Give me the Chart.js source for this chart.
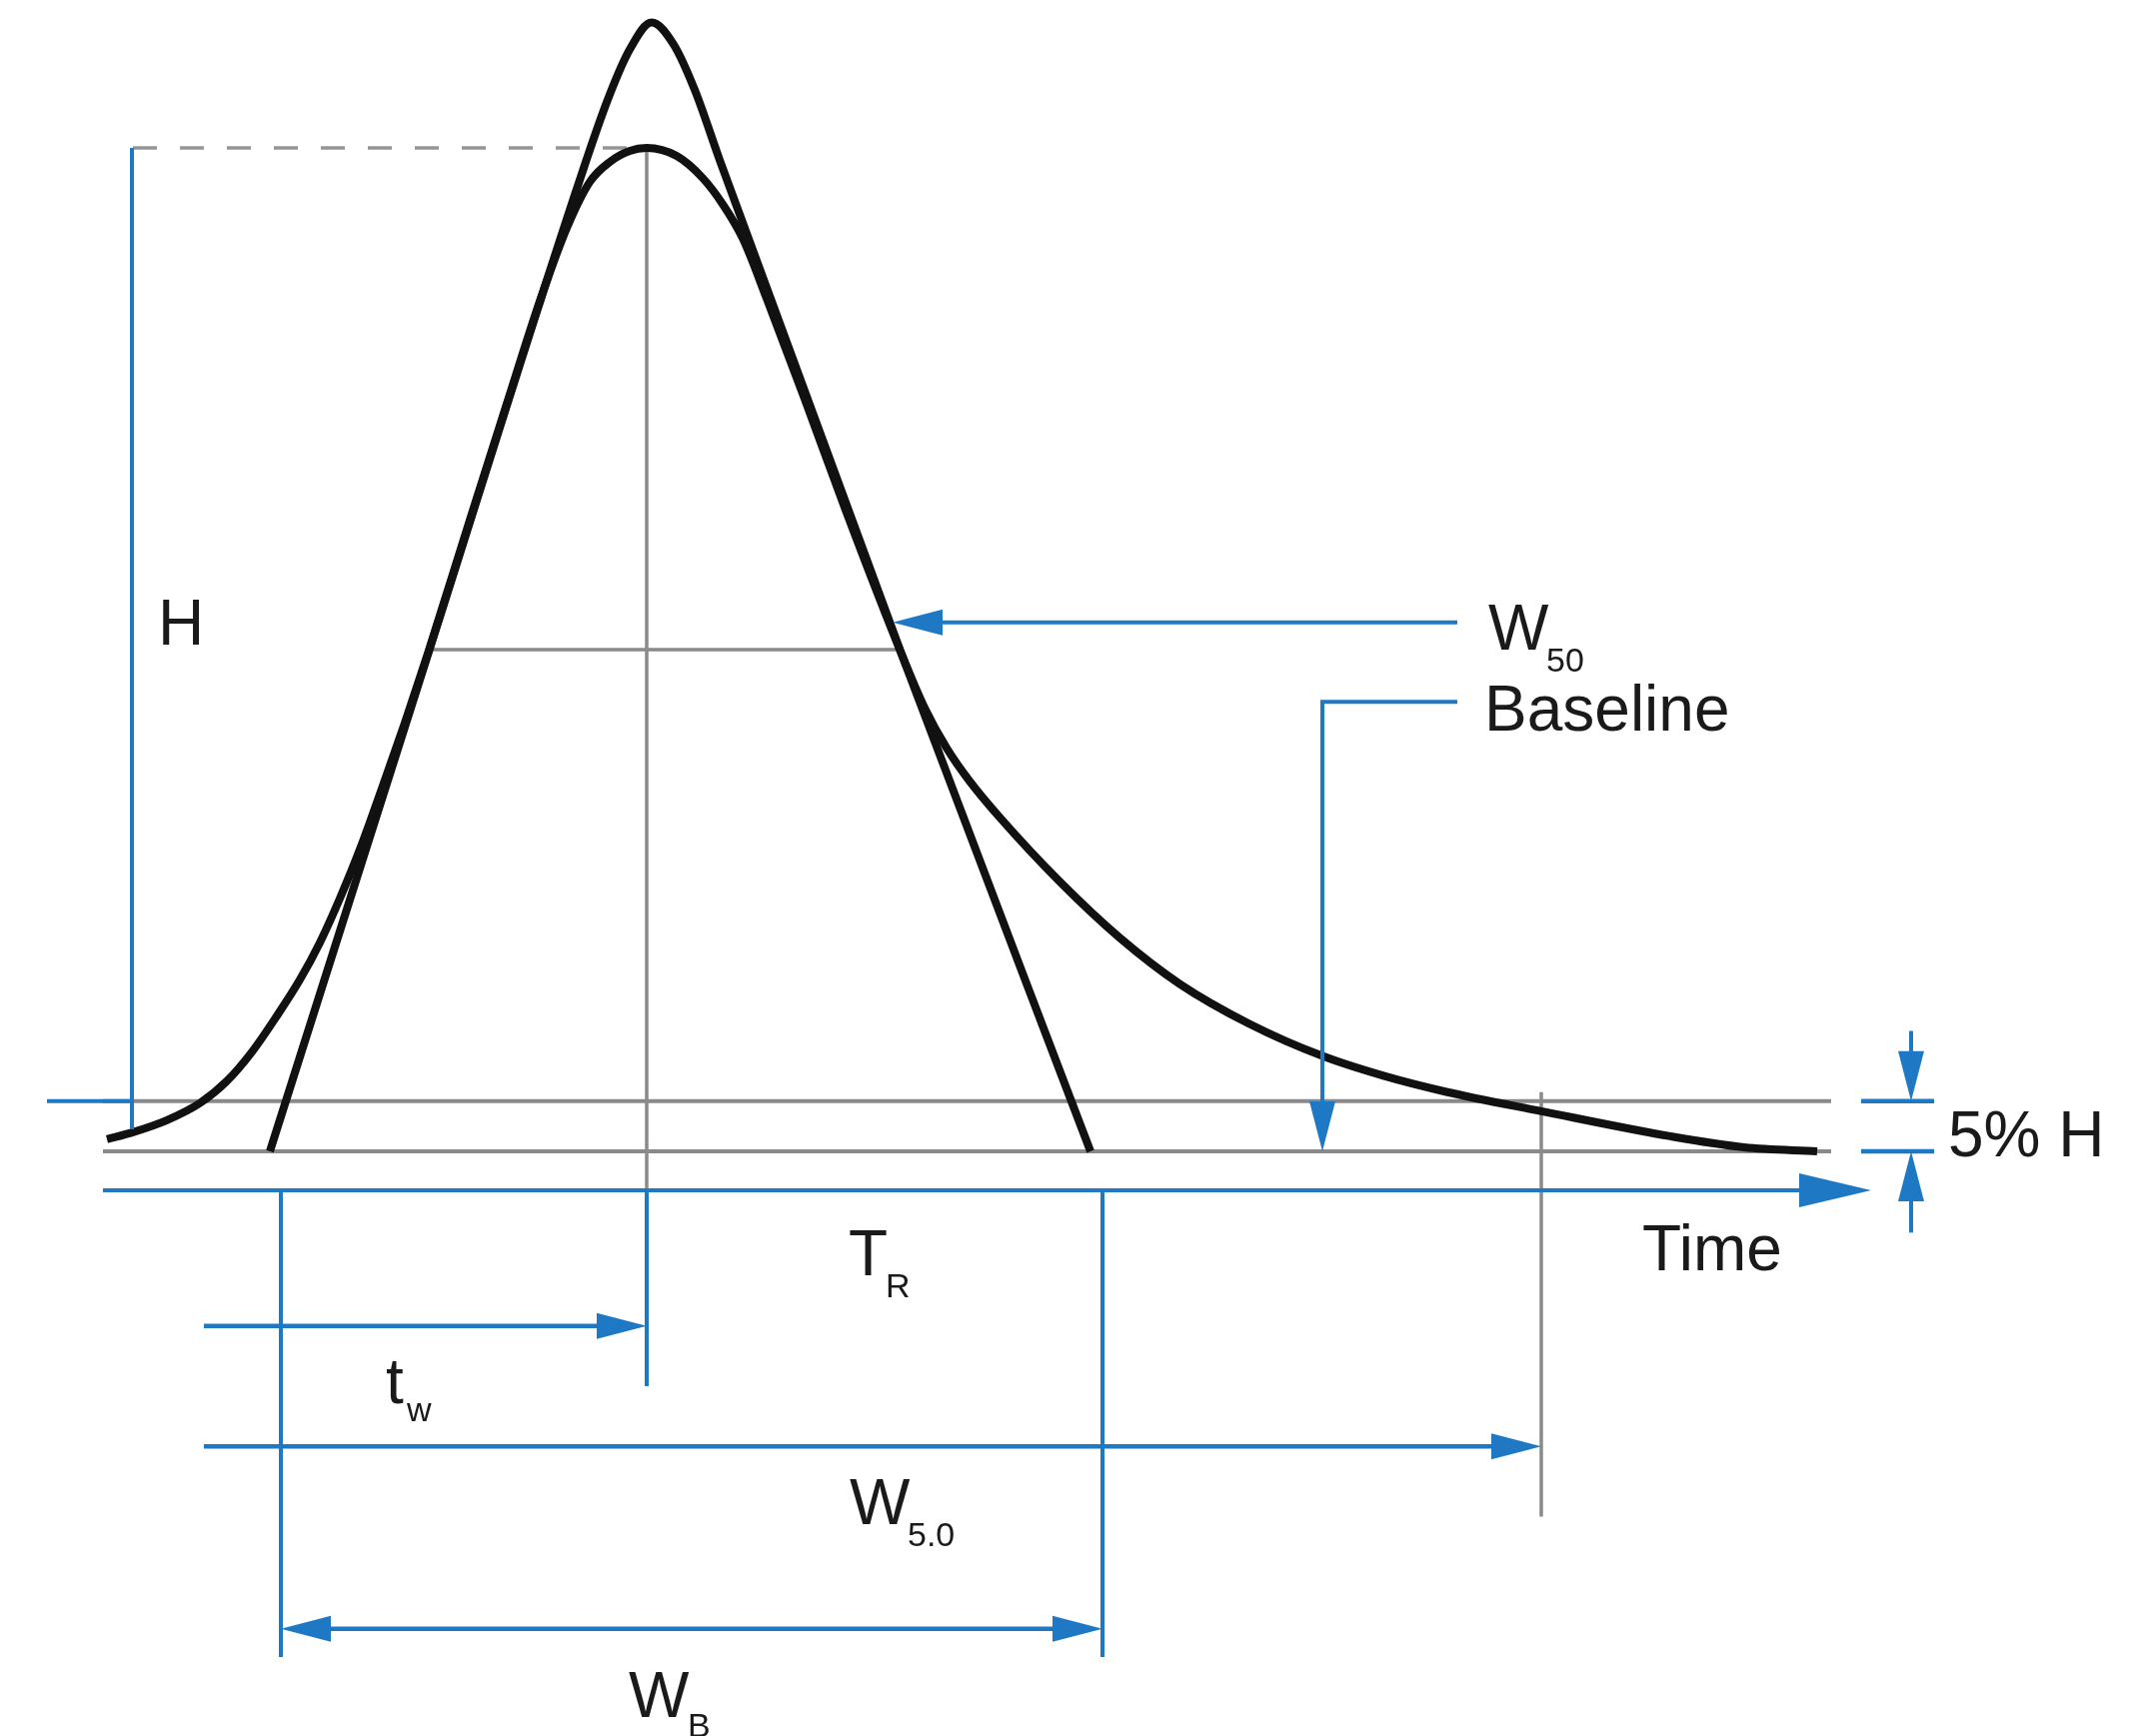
<!DOCTYPE html>
<html>
<head>
<meta charset="utf-8">
<script src="https://cdn.jsdelivr.net/npm/chart.js@4.4.1/dist/chart.umd.min.js"></script>
<style>
  html, body { margin: 0; padding: 0; background: #fff; }
  #wrap { position: relative; width: 2143px; height: 1737px; }
</style>
</head>
<body>
<div id="wrap"><canvas id="peak-chart"></canvas></div>
<script>
// time in min, signal in % of peak height H
const X_MIN = 0, X_MAX = 21.43;
const Y_MIN = -58.27, Y_MAX = 114.74;

// recorded peak, with tailing
const peakTime   = [1.07, 1.33, 1.67, 2.00, 2.27, 2.52, 2.77, 3.00, 3.20, 3.40, 3.62, 3.85, 4.05, 4.28, 4.70, 5.08,
                    5.40, 5.67, 5.90, 6.10, 6.30, 6.47, 6.77, 7.03, 7.23, 7.43, 7.67, 8.05, 8.46, 9.01, 9.25, 9.47,
                    9.70, 10.00, 10.60, 11.20, 11.80, 12.50, 13.23, 13.85, 14.48, 15.42, 16.71, 17.45, 18.18];
const peakSignal = [1.2, 1.9, 3.1, 4.8, 7.0, 9.9, 13.5, 17.1, 20.8, 25.2, 30.6, 37.0, 42.7, 49.6, 62.9, 74.8,
                    84.7, 92.0, 96.6, 98.6, 99.7, 100, 99.2, 97.0, 94.4, 91.0, 85.0, 75.0, 63.9, 49.8, 44.2, 40.2,
                    36.9, 33.3, 26.9, 21.3, 16.7, 12.7, 9.5, 7.5, 5.9, 4.0, 1.5, 0.4, 0];

// tangents through the inflection points
const tangentTime   = [2.70, 4.29, 5.80, 6.08, 6.30, 6.52, 6.74, 6.95, 7.20, 9.01, 10.91];
const tangentSignal = [0, 49.8, 96.8, 104.8, 109.8, 112.5, 110.3, 105.8, 98.8, 49.8, 0];

// levels
const baseLevel  = 0;
const fivePct    = 5;
const halfHeight = 50;
const peakHeight = 100;

// times
const retention = 6.47;                    // T_R
const halfLeft = 4.30, halfRight = 8.99;   // W50
const baseLeft = 2.81, baseRight = 11.03;  // W_B
const w5Right = 15.42;                     // W5.0

const blue = '#1f78c4';
const gray = '#8a8a8a';
const ink  = '#111111';

// data units per pixel, used to pull arrow shafts back under the heads
const xPerPx = (X_MAX - X_MIN) / 2143;
const yPerPx = (Y_MAX - Y_MIN) / 1737;

function line(pts, color, width, order, dash) {
  return {
    data: pts.map(([x, y]) => ({ x, y })),
    showLine: true,
    borderColor: color,
    borderWidth: width,
    borderDash: dash || [],
    borderCapStyle: 'butt',
    borderJoinStyle: 'miter',
    pointRadius: 0,
    tension: 0,
    order,
    clip: false,
  };
}

function curve(xs, ys) {
  return {
    data: xs.map((t, i) => ({ x: t, y: ys[i] })),
    showLine: true,
    borderColor: ink,
    borderWidth: 8,
    pointRadius: 0,
    cubicInterpolationMode: 'monotone',
    borderCapStyle: 'butt',
    borderJoinStyle: 'round',
    order: 2,
    clip: false,
  };
}

function back(x, y, dir, px) {
  if (dir === 'r') return [x - px * xPerPx, y];
  if (dir === 'l') return [x + px * xPerPx, y];
  if (dir === 'd') return [x, y + px * yPerPx];
  return [x, y - px * yPerPx];
}

const axisY = -3.88;       // blue time axis
const twY = -17.4, w5Y = -29.4, wbY = -47.6;
const arrowFrom = 2.04;
const w50Y = 52.7, basePtrY = 44.8, calloutX = 14.58, basePtrX = 13.23;
const markX = 19.12;

// arrow heads: x, y, direction, big?
const heads = [
  [18.72, axisY, 'r', true],
  [retention, twY, 'r'],
  [w5Right, w5Y, 'r'],
  [baseLeft, wbY, 'l'],
  [baseRight, wbY, 'r'],
  [8.93, w50Y, 'l'],
  [basePtrX, baseLevel, 'd'],
  [markX, fivePct, 'd'],
  [markX, baseLevel, 'u'],
];

const datasets = [
  // grey guides
  line([[1.03, baseLevel], [18.32, baseLevel]], gray, 4, 3),
  line([[1.03, fivePct], [18.32, fivePct]], gray, 4, 3),
  line([[halfLeft, halfHeight], [halfRight, halfHeight]], gray, 3.5, 3),
  line([[retention, peakHeight], [retention, axisY]], gray, 3.5, 3),
  line([[w5Right, 5.9], [w5Right, -36.4]], gray, 3.5, 3),
  line([[1.33, peakHeight], [retention, peakHeight]], '#959595', 3.5, 3, [24, 23]),

  // peak and tangents
  curve(peakTime, peakSignal),
  curve(tangentTime, tangentSignal),

  // blue dimension lines
  line([[1.32, peakHeight], [1.32, 2.2]], blue, 4, 1),
  line([[0.47, fivePct], [1.32, fivePct]], blue, 4, 1),
  line([[1.03, axisY], back(18.72, axisY, 'r', 30)], blue, 4, 1),
  line([[retention, axisY], [retention, -23.4]], blue, 4, 1),
  line([[baseLeft, axisY], [baseLeft, -50.4]], blue, 4, 1),
  line([[baseRight, axisY], [baseRight, -50.4]], blue, 4, 1),
  line([[arrowFrom, twY], back(retention, twY, 'r', 20)], blue, 4.5, 1),
  line([[arrowFrom, w5Y], back(w5Right, w5Y, 'r', 20)], blue, 4.5, 1),
  line([back(baseLeft, wbY, 'l', 20), back(baseRight, wbY, 'r', 20)], blue, 4.5, 1),
  line([[calloutX, w50Y], back(8.93, w50Y, 'l', 20)], blue, 4, 1),
  line([[calloutX, basePtrY], [basePtrX, basePtrY], back(basePtrX, baseLevel, 'd', 20)], blue, 4, 1),
  line([[18.62, fivePct], [19.35, fivePct]], blue, 4.5, 1),
  line([[18.62, baseLevel], [19.35, baseLevel]], blue, 4.5, 1),
  line([[markX, 12.0], back(markX, fivePct, 'd', 20)], blue, 4, 1),
  line([[markX, -8.1], back(markX, baseLevel, 'u', 20)], blue, 4, 1),
];

// text, x, y, subscript?
const labels = [
  ['H', 1.58, 50.5],
  ['W', 14.89, 50.0], ['50', 15.47, 47.8, true],
  ['Baseline', 14.85, 41.9],
  ['Time', 16.43, -11.85],
  ['5% H', 19.49, -0.5],
  ['T', 8.49, -12.4], ['R', 8.86, -14.5, true],
  ['t', 3.86, -25.1], ['w', 4.07, -26.9, true],
  ['W', 8.50, -37.2], ['5.0', 9.08, -39.3, true],
  ['W', 6.29, -56.4], ['B', 6.88, -58.4, true],
];

const arrowHeads = {
  id: 'arrowHeads',
  afterDatasetsDraw(chart) {
    const { ctx, scales: { x, y } } = chart;
    ctx.save();
    ctx.fillStyle = blue;
    heads.forEach(([hx, hy, dir, big]) => {
      const px = x.getPixelForValue(hx), py = y.getPixelForValue(hy);
      const len = big ? 72 : 50, half = big ? 17 : 13;
      ctx.beginPath();
      ctx.moveTo(px, py);
      if (dir === 'r') { ctx.lineTo(px - len, py - half); ctx.lineTo(px - len, py + half); }
      if (dir === 'l') { ctx.lineTo(px + len, py - half); ctx.lineTo(px + len, py + half); }
      if (dir === 'd') { ctx.lineTo(px - half, py - len); ctx.lineTo(px + half, py - len); }
      if (dir === 'u') { ctx.lineTo(px - half, py + len); ctx.lineTo(px + half, py + len); }
      ctx.closePath();
      ctx.fill();
    });
    ctx.restore();
  }
};

const peakLabels = {
  id: 'peakLabels',
  afterDatasetsDraw(chart) {
    const { ctx, scales: { x, y } } = chart;
    ctx.save();
    ctx.fillStyle = '#1a1a1a';
    ctx.textBaseline = 'alphabetic';
    ctx.textAlign = 'left';
    labels.forEach(([text, lx, ly, sub]) => {
      ctx.font = (sub ? 34 : 64) + 'px "Liberation Sans", Arial, sans-serif';
      ctx.fillText(text, x.getPixelForValue(lx), y.getPixelForValue(ly));
    });
    ctx.restore();
  }
};

new Chart(document.getElementById('peak-chart'), {
  type: 'scatter',
  data: { datasets },
  options: {
    responsive: true,
    maintainAspectRatio: false,
    devicePixelRatio: 1,
    animation: false,
    layout: { padding: 0 },
    plugins: { legend: { display: false }, tooltip: { enabled: false } },
    scales: {
      x: { type: 'linear', min: X_MIN, max: X_MAX, display: false },
      y: { type: 'linear', min: Y_MIN, max: Y_MAX, display: false },
    },
  },
  plugins: [arrowHeads, peakLabels],
});
</script>
</body>
</html>
